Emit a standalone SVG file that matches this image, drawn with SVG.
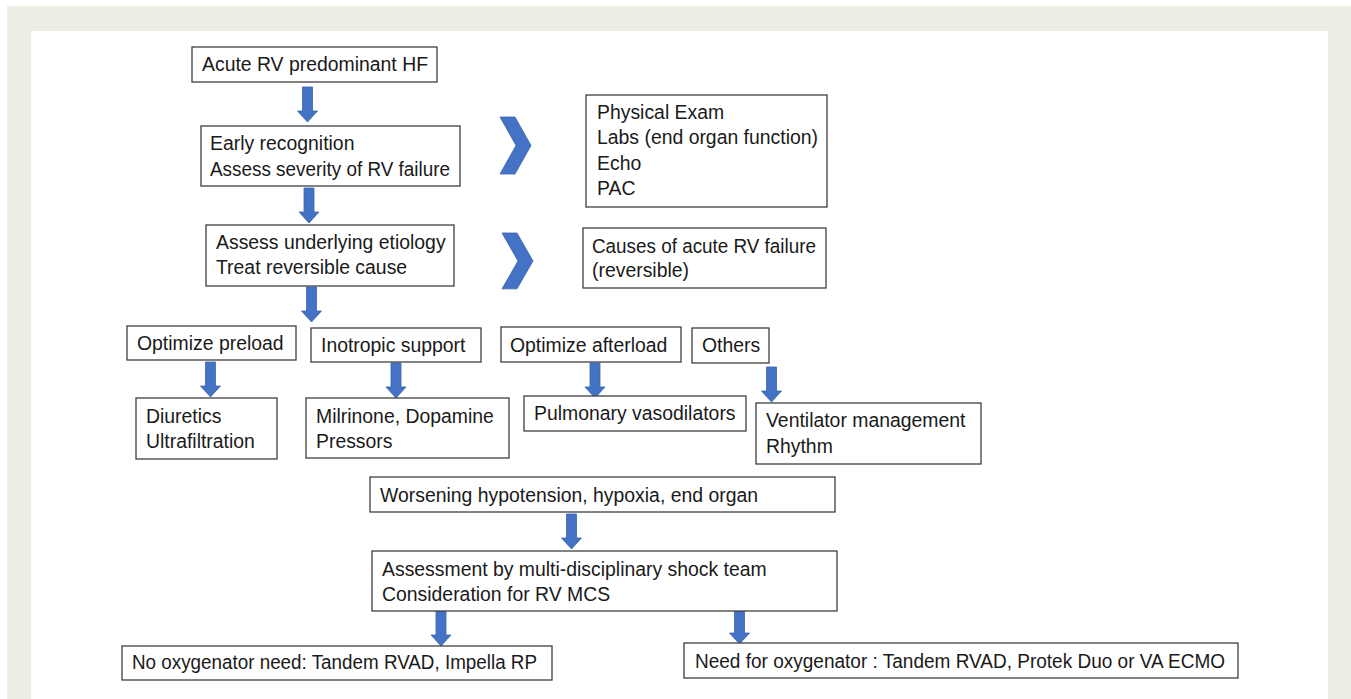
<svg xmlns="http://www.w3.org/2000/svg" width="1351" height="699" viewBox="0 0 1351 699">
<style>
.box{fill:#fff;stroke:#3f3f3f;stroke-width:1.3}
.t{font-family:"Liberation Sans",Arial,sans-serif;font-size:19.4px;fill:#1a1a1a}
.arr{fill:#4472C4;stroke:#3a64b0;stroke-width:0.8}
</style>
<defs>
<path id="down" d="M-5,0 H5 V24 H10 L0,35 L-10,24 H-5 Z"/>
<path id="chev" d="M0,0 H15 L31,28.5 L15,57 H0 L16,28.5 Z"/>
</defs>
<rect x="0" y="0" width="1351" height="699" fill="#fff"/>
<rect x="7" y="6" width="1344" height="693" fill="#efeee4"/>
<rect x="31" y="31" width="1297" height="668" fill="#fff"/>

<g id="connectors">
<use href="#down" class="arr" transform="translate(307.5,87)"/>
<use href="#down" class="arr" transform="translate(309,188)"/>
<use href="#down" class="arr" transform="translate(311.5,287)"/>
<use href="#down" class="arr" transform="translate(210.5,362)"/>
<use href="#down" class="arr" transform="translate(396,363)"/>
<use href="#down" class="arr" transform="translate(595,363)"/>
<use href="#down" class="arr" transform="translate(771.5,367)"/>
<use href="#down" class="arr" transform="translate(571.5,514)"/>
<use href="#down" class="arr" transform="translate(441,611)"/>
<use href="#down" class="arr" transform="translate(739.5,609)"/>
<use href="#chev" class="arr" transform="translate(500,117)"/>
<use href="#chev" class="arr" transform="translate(502,233) scale(1,0.98)"/>
</g>

<g id="n1"><rect class="box" x="192" y="47" width="245" height="35"/><text class="t" x="202" y="71">Acute RV predominant HF</text></g>
<g id="n2"><rect class="box" x="201" y="126" width="259" height="60"/><text class="t" x="210" y="150">Early recognition</text><text class="t" x="210" y="176" textLength="240" lengthAdjust="spacingAndGlyphs">Assess severity of RV failure</text></g>
<g id="n3"><rect class="box" x="586" y="95" width="241" height="112"/><text class="t" x="597" y="119">Physical Exam</text><text class="t" x="597" y="144">Labs (end organ function)</text><text class="t" x="597" y="170">Echo</text><text class="t" x="597" y="195">PAC</text></g>
<g id="n4"><rect class="box" x="206" y="225" width="248" height="61"/><text class="t" x="216" y="249">Assess underlying etiology</text><text class="t" x="216" y="274">Treat reversible cause</text></g>
<g id="n5"><rect class="box" x="583" y="228" width="243" height="60"/><text class="t" x="592" y="253" textLength="224" lengthAdjust="spacingAndGlyphs">Causes of acute RV failure</text><text class="t" x="592" y="277">(reversible)</text></g>
<g id="n6"><rect class="box" x="127" y="326" width="169" height="34"/><text class="t" x="137" y="350">Optimize preload</text></g>
<g id="n7"><rect class="box" x="311" y="328" width="170" height="34"/><text class="t" x="321" y="352">Inotropic support</text></g>
<g id="n8"><rect class="box" x="501" y="327" width="180" height="35"/><text class="t" x="510" y="352">Optimize afterload</text></g>
<g id="n9"><rect class="box" x="692" y="328" width="77" height="35"/><text class="t" x="702" y="352">Others</text></g>
<g id="n10"><rect class="box" x="136" y="398" width="141" height="61"/><text class="t" x="146" y="423">Diuretics</text><text class="t" x="146" y="448">Ultrafiltration</text></g>
<g id="n11"><rect class="box" x="306" y="398" width="203" height="60"/><text class="t" x="316" y="423">Milrinone, Dopamine</text><text class="t" x="316" y="448">Pressors</text></g>
<g id="n12"><rect class="box" x="524" y="396" width="222" height="35"/><text class="t" x="534" y="420">Pulmonary vasodilators</text></g>
<g id="n13"><rect class="box" x="756" y="403" width="225" height="61"/><text class="t" x="766" y="427">Ventilator management</text><text class="t" x="766" y="453">Rhythm</text></g>
<g id="n14"><rect class="box" x="370" y="477" width="465" height="35"/><text class="t" x="380" y="502">Worsening hypotension, hypoxia, end organ</text></g>
<g id="n15"><rect class="box" x="372" y="551" width="465" height="60"/><text class="t" x="382" y="576">Assessment by multi-disciplinary shock team</text><text class="t" x="382" y="601">Consideration for RV MCS</text></g>
<g id="n16"><rect class="box" x="122" y="646" width="430" height="34"/><text class="t" x="132" y="669" textLength="405" lengthAdjust="spacingAndGlyphs">No oxygenator need: Tandem RVAD, Impella RP</text></g>
<g id="n17"><rect class="box" x="684" y="643" width="554" height="35"/><text class="t" x="695" y="668" textLength="530" lengthAdjust="spacingAndGlyphs">Need for oxygenator : Tandem RVAD, Protek Duo or VA ECMO</text></g>
</svg>
